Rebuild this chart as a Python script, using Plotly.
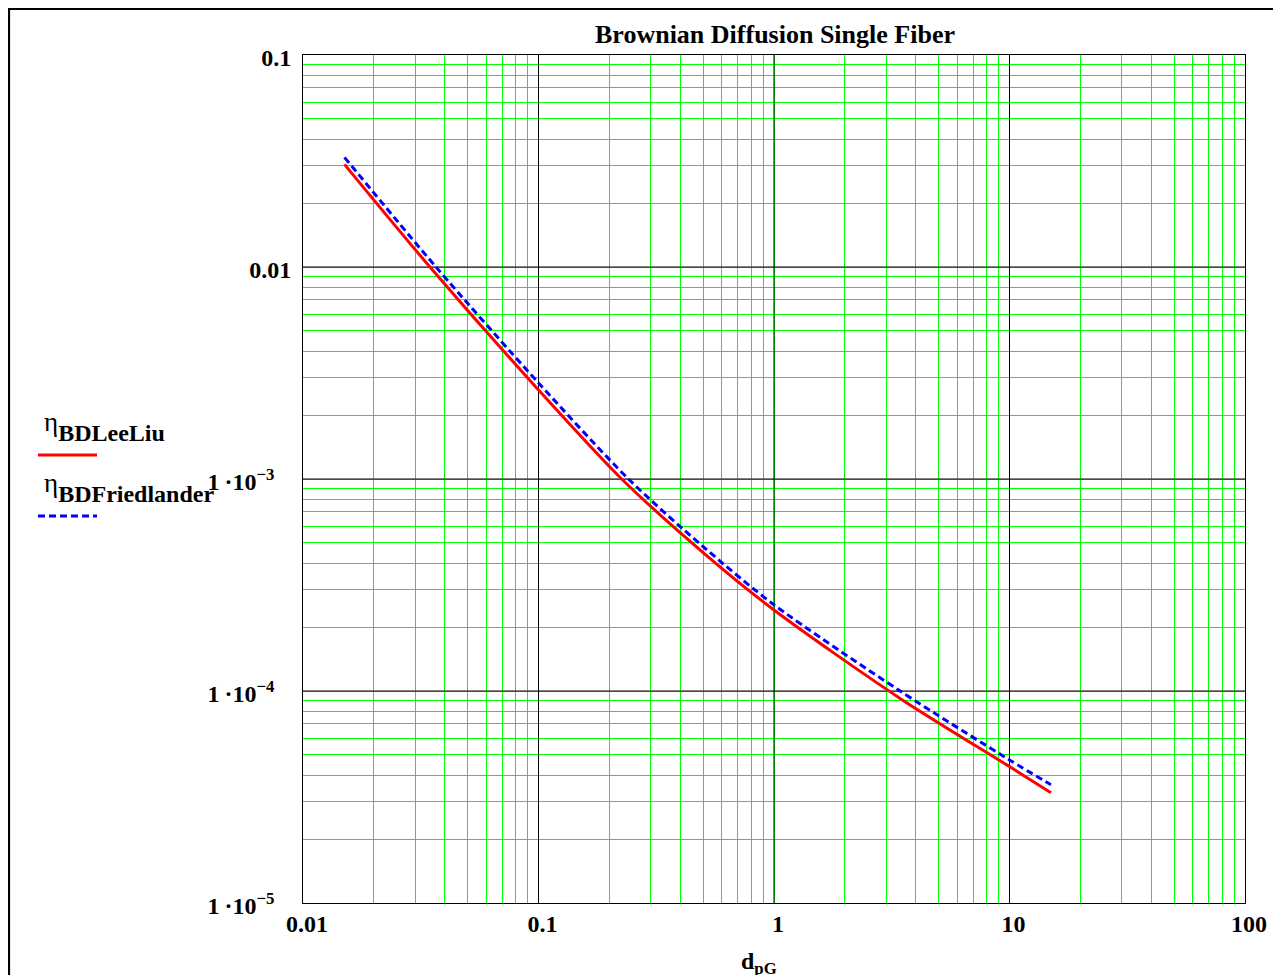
import math
import plotly.graph_objects as go

# ---- data ----
d_lee = [0.015, 0.0346, 0.1, 0.2255, 0.5, 1, 3.43, 10, 15]
eta_lee = [0.0305, 0.01, 0.00263, 0.001, 4.5e-4, 2.41e-4, 9.23e-5, 4.40e-5, 3.31e-5]
d_fr = [0.015, 0.0367, 0.1, 0.241, 0.5, 1, 3.43, 10, 15]
eta_fr = [0.0329, 0.01, 0.00284, 0.001, 4.8e-4, 2.55e-4, 1.0e-4, 4.73e-5, 3.61e-5]

x_decades = [0.01, 0.1, 1, 10, 100]
x_decade_text = ["0.01", "0.1", "1", "10", "100"]
y_decades = [1e-5, 1e-4, 1e-3, 0.01, 0.1]
PAD = "\u00a0\u00a0\u2009"
y_decade_text = ["1\u2009·10<sup>\u22125</sup>" + PAD, "1\u2009·10<sup>\u22124</sup>" + PAD,
                 "1\u2009·10<sup>\u22123</sup>" + PAD, "0.01", "0.1"]

OFF = 8  # page body margin
W, H = 1281 - OFF, 975 - OFF
L, R, T, B = 303, 1245, 55, 903  # plot area in screen pixels


def px(x):
    return (x - L) / (R - L)


def py(y):
    return (B - y) / (B - T)


def full_grid(decades, texts):
    vals, labels = [], []
    for i, d in enumerate(decades):
        vals.append(d)
        labels.append(texts[i])
        if i < len(decades) - 1:
            for m in range(2, 10):
                vals.append(m * d)
                labels.append("")
    return vals, labels


FONT = "Liberation Serif, Times New Roman, serif"

gx, gx_text = full_grid(x_decades, x_decade_text)
gy, gy_text = full_grid(y_decades, y_decade_text)
xr = [math.log10(x_decades[0]), math.log10(x_decades[-1])]
yr = [math.log10(y_decades[0]), math.log10(y_decades[-1])]

fig = go.Figure()
# black major grid lines at the decades, drawn first so the curves sit on top
for d in x_decades[1:-1]:
    fig.add_trace(go.Scatter(x=[d, d], y=[y_decades[0], y_decades[-1]], mode="lines",
                             line=dict(color="black", width=1), hoverinfo="skip", showlegend=False))
for d in y_decades[1:-1]:
    fig.add_trace(go.Scatter(x=[x_decades[0], x_decades[-1]], y=[d, d], mode="lines",
                             line=dict(color="black", width=1), hoverinfo="skip", showlegend=False))

fig.add_trace(go.Scatter(x=d_lee, y=eta_lee, mode="lines", name="ηBDLeeLiu",
                         line=dict(color="#ff0000", width=3, shape="spline", smoothing=0.8)))
fig.add_trace(go.Scatter(x=d_fr, y=eta_fr, mode="lines", name="ηBDFriedlander",
                         line=dict(color="#0000ff", width=3, dash="7px,4px", shape="spline", smoothing=0.8)))

tickfont = dict(family=FONT, size=24, color="black", weight="bold")
axis = dict(type="log", showline=True, mirror=True, linecolor="black", linewidth=1,
            ticks="", showgrid=True, gridcolor="#00ff00", gridwidth=1, zeroline=False,
            tickfont=tickfont, tickmode="array")

fig.update_xaxes(range=xr, tickvals=gx, ticktext=gx_text,
                 ticklabelshift=4, ticklabelstandoff=-1, **axis)
fig.update_yaxes(range=yr, tickvals=gy, ticktext=gy_text,
                 ticklabelshift=3, ticklabelstandoff=6, **axis)

shapes = [
    # outer frame
    dict(type="rect", xref="paper", yref="paper", x0=px(9), x1=px(1300),
         y0=py(1000), y1=py(9), line=dict(color="black", width=2.2), layer="above"),
    # legend samples
    dict(type="line", xref="paper", yref="paper", x0=px(38), x1=px(97),
         y0=py(455), y1=py(455), line=dict(color="#ff0000", width=3)),
    dict(type="line", xref="paper", yref="paper", x0=px(38), x1=px(97),
         y0=py(516), y1=py(516), line=dict(color="#0000ff", width=3, dash="7px,4px")),
]

ETA = "<sup><span style='font-size:27px'>η</span></sup>"
annotations = [
    dict(text="<b>Brownian Diffusion Single Fiber</b>", x=px(775), y=py(35),
         xref="paper", yref="paper", showarrow=False, xanchor="center", yanchor="middle",
         font=dict(family=FONT, size=26, color="black")),
    dict(text="<b>d<sub>pG</sub></b>", x=px(759), y=py(946),
         xref="paper", yref="paper", showarrow=False, xanchor="center", yanchor="top",
         font=dict(family=FONT, size=24, color="black")),
    dict(text=ETA + "<b>BDLeeLiu</b>", x=px(42), y=py(427),
         xref="paper", yref="paper", showarrow=False, xanchor="left", yanchor="middle",
         font=dict(family=FONT, size=24, color="black")),
    dict(text=ETA + "<b>BDFriedlander</b>", x=px(42), y=py(487),
         xref="paper", yref="paper", showarrow=False, xanchor="left", yanchor="middle",
         font=dict(family=FONT, size=24, color="black")),
]

fig.update_layout(
    width=W, height=H,
    margin=dict(l=L - OFF, r=W - (R - OFF), t=T - OFF, b=H - (B - OFF), pad=0),
    paper_bgcolor="white", plot_bgcolor="white",
    showlegend=False, shapes=shapes, annotations=annotations,
    font=dict(family=FONT, color="black"),
)

fig.write_html("out.html")
